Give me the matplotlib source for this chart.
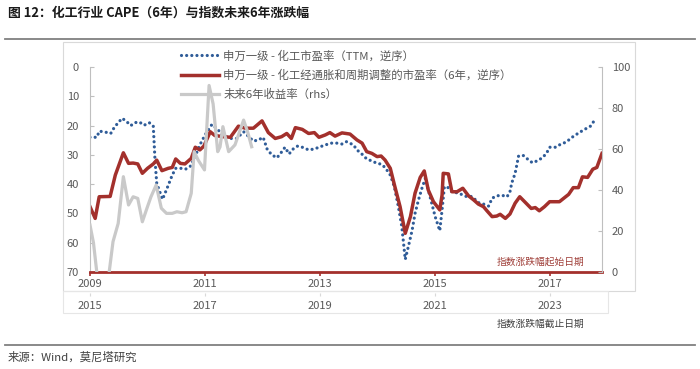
import matplotlib
matplotlib.use("Agg")
import matplotlib.pyplot as plt
from matplotlib.lines import Line2D
from matplotlib.patches import Rectangle

plt.rcParams['font.family'] = ['Noto Sans CJK SC', 'DejaVu Sans']

# 申万一级 - 化工市盈率（TTM，逆序），左轴
pe_year = [2009.00, 2009.12, 2009.16, 2009.26, 2009.36, 2009.42, 2009.49, 2009.56, 2009.64, 2009.71,
           2009.78, 2009.86, 2009.94, 2010.03, 2010.10, 2010.13, 2010.16, 2010.26, 2010.34, 2010.43,
           2010.49, 2010.58, 2010.66, 2010.75, 2010.83, 2010.91, 2011.00, 2011.12, 2011.23, 2011.29,
           2011.44, 2011.55, 2011.67, 2011.75, 2011.84, 2011.93, 2012.01, 2012.08, 2012.16, 2012.25,
           2012.32, 2012.39, 2012.46, 2012.54, 2012.61, 2012.69, 2012.80, 2012.90, 2012.98, 2013.09,
           2013.20, 2013.29, 2013.38, 2013.46, 2013.58, 2013.64, 2013.73, 2013.81, 2013.90, 2013.99,
           2014.07, 2014.14, 2014.22, 2014.29, 2014.36, 2014.42, 2014.48, 2014.54, 2014.60, 2014.65,
           2014.71, 2014.77, 2014.83, 2014.88, 2014.94, 2015.00, 2015.08, 2015.12, 2015.16, 2015.21,
           2015.29, 2015.41, 2015.55, 2015.64, 2015.75, 2015.84, 2015.93, 2015.99, 2016.07, 2016.16,
           2016.25, 2016.30, 2016.33, 2016.39, 2016.45, 2016.53, 2016.61, 2016.69, 2016.78, 2016.87,
           2016.94, 2016.99, 2017.09, 2017.17, 2017.28, 2017.38, 2017.48, 2017.58, 2017.70, 2017.78]
pe_ttm = [24.0, 24.0, 21.9, 22.2, 22.7, 20.7, 19.0, 17.5, 18.7, 20.0,
          19.0, 18.8, 19.9, 19.0, 20.2, 31.8, 39.7, 45.2, 41.4, 36.9,
          34.6, 34.6, 34.9, 33.8, 30.4, 26.6, 23.2, 19.6, 21.5, 23.2,
          24.4, 24.4, 22.1, 23.6, 25.3, 24.9, 24.0, 28.1, 30.0, 31.0,
          29.3, 27.4, 29.7, 27.8, 27.0, 27.4, 28.3, 28.0, 27.4, 26.6,
          26.0, 26.0, 26.3, 25.5, 26.6, 28.3, 29.8, 31.4, 32.1, 32.9,
          33.2, 34.6, 36.9, 40.9, 47.7, 54.5, 65.7, 60.8, 55.7, 50.0,
          45.4, 41.4, 38.0, 42.0, 46.5, 51.1, 55.9, 48.8, 40.9, 40.9,
          42.6, 43.1, 44.3, 44.2, 46.3, 46.8, 47.5, 44.8, 44.0, 43.8,
          44.3, 42.6, 39.7, 36.3, 30.4, 30.2, 31.5, 32.7, 32.0, 30.9,
          29.3, 27.4, 27.4, 26.5, 25.6, 24.0, 22.7, 21.5, 20.2, 17.9]

# 申万一级 - 化工经通胀和周期调整的市盈率（6年，逆序），左轴
cape_year = [2009.00, 2009.09, 2009.16, 2009.35, 2009.44, 2009.58, 2009.67, 2009.75, 2009.83, 2009.91,
             2010.00, 2010.10, 2010.16, 2010.25, 2010.36, 2010.43, 2010.49, 2010.57, 2010.65, 2010.76,
             2010.83, 2010.91, 2010.98, 2011.09, 2011.17, 2011.32, 2011.44, 2011.58, 2011.70, 2011.84,
             2011.99, 2012.10, 2012.22, 2012.33, 2012.42, 2012.50, 2012.57, 2012.69, 2012.80, 2012.90,
             2012.98, 2013.09, 2013.17, 2013.26, 2013.38, 2013.52, 2013.64, 2013.73, 2013.81, 2013.90,
             2013.99, 2014.06, 2014.13, 2014.22, 2014.30, 2014.39, 2014.48, 2014.57, 2014.65, 2014.74,
             2014.81, 2014.88, 2014.97, 2015.08, 2015.12, 2015.14, 2015.23, 2015.29, 2015.38, 2015.48,
             2015.58, 2015.67, 2015.75, 2015.84, 2015.90, 2015.99, 2016.07, 2016.13, 2016.22, 2016.30,
             2016.39, 2016.47, 2016.57, 2016.67, 2016.74, 2016.81, 2016.90, 2016.99, 2017.16, 2017.23,
             2017.32, 2017.40, 2017.49, 2017.56, 2017.65, 2017.74, 2017.81, 2017.90]
cape_6y = [47.7, 51.7, 44.3, 44.2, 36.9, 29.3, 32.9, 32.8, 33.1, 36.3,
           34.6, 33.1, 31.8, 35.4, 34.6, 34.3, 31.4, 32.9, 33.1, 31.2,
           27.4, 28.3, 27.0, 22.1, 23.4, 23.8, 24.0, 20.2, 20.9, 20.9,
           18.4, 22.4, 24.4, 23.8, 22.7, 24.4, 20.7, 21.3, 22.7, 22.4,
           24.0, 23.2, 22.4, 23.6, 22.5, 22.9, 24.9, 26.0, 28.9, 29.5,
           30.6, 30.4, 31.8, 34.6, 40.9, 47.7, 56.8, 51.1, 43.1, 37.7,
           35.5, 42.0, 46.0, 48.8, 43.7, 36.3, 36.5, 42.6, 42.6, 41.4,
           44.0, 45.4, 46.8, 47.7, 49.1, 51.1, 50.9, 50.3, 51.7, 50.2,
           46.5, 44.3, 46.3, 48.3, 48.0, 49.1, 47.7, 46.0, 46.0, 44.9,
           43.5, 41.2, 41.2, 37.5, 37.7, 34.9, 34.3, 29.5]

# 未来6年收益率（rhs）
ret_year = [2009.00, 2009.06, 2009.13, 2009.32, 2009.40, 2009.49, 2009.58, 2009.67, 2009.75, 2009.83,
            2009.91, 2009.99, 2010.06, 2010.15, 2010.24, 2010.33, 2010.43, 2010.51, 2010.60, 2010.67,
            2010.76, 2010.81, 2010.88, 2010.99, 2011.07, 2011.14, 2011.22, 2011.26, 2011.31, 2011.41,
            2011.52, 2011.67, 2011.74, 2011.81]
ret_6y = [22.9, 14.3, -3.0, -3.0, 14.8, 23.7, 46.5, 32.7, 36.7, 35.9,
          24.5, 31.1, 36.7, 42.4, 31.1, 28.6, 28.6, 29.4, 28.9, 29.4,
          38.4, 58.7, 54.6, 49.8, 91.0, 82.0, 58.7, 61.0, 70.9, 58.7,
          62.0, 74.1, 68.4, 61.1]

year_ticks = [2009, 2011, 2013, 2015, 2017]
left_ticks = [0, 10, 20, 30, 40, 50, 60, 70]
right_ticks = [0, 20, 40, 60, 80, 100]

blue = '#2F5C98'
red = '#A3302C'
grey = '#C9C9C9'
txt = '#595959'
W, H = 700, 369


def fx(x):
    return x / W


def fy(y):
    return 1 - y / H


fig = plt.figure(figsize=(7, 3.69), dpi=100)

ax = fig.add_axes([fx(90), fy(272), fx(602) - fx(90), fy(67) - fy(272)])
ax.plot(pe_year, pe_ttm, color=blue, lw=2.3, linestyle=(0, (0.01, 1.6)),
        dash_capstyle='round', label='申万一级 - 化工市盈率（TTM，逆序）')
ax.plot(cape_year, cape_6y, color=red, lw=2.5, solid_joinstyle='round',
        label='申万一级 - 化工经通胀和周期调整的市盈率（6年，逆序）')
ax.set_xlim(2009, 2017.9)
ax.set_ylim(70, 0)
ax.set_yticks(left_ticks)
ax.set_xticks(year_ticks)
ax.set_xticklabels([str(y) for y in year_ticks])
ax.spines['top'].set_visible(False)
ax.spines['right'].set_visible(False)
ax.spines['left'].set_color('#BFBFBF')
ax.spines['bottom'].set_color(red)
ax.spines['bottom'].set_linewidth(2)
ax.spines['bottom'].set_zorder(5)
ax.tick_params(axis='y', direction='in', length=3, color='#BFBFBF', labelcolor=txt,
               labelsize=8, pad=8)
ax.tick_params(axis='x', direction='out', length=3, width=1.2, color=red, labelcolor=txt,
               labelsize=8, pad=2)

ax2 = ax.twinx()
ax2.plot(ret_year, ret_6y, color=grey, lw=2.3, solid_joinstyle='round',
         label='未来6年收益率（rhs）')
ax2.set_ylim(0, 100)
ax2.set_yticks(right_ticks)
for s in ['top', 'left', 'bottom']:
    ax2.spines[s].set_visible(False)
ax2.spines['right'].set_color('#BFBFBF')
ax2.tick_params(axis='y', direction='in', length=3, color='#BFBFBF', labelcolor=txt,
                labelsize=8, pad=7)

sec = ax.secondary_xaxis((272 - 293) / 205, functions=(lambda x: x + 6, lambda x: x - 6))
sec.set_xticks([y + 6 for y in year_ticks])
sec.set_xticklabels([str(y + 6) for y in year_ticks])
sec.spines['bottom'].set_visible(False)
sec.tick_params(direction='out', length=2, color='#D9D9D9', labelcolor=txt,
                labelsize=8, pad=4)

h1, l1 = ax.get_legend_handles_labels()
h2, l2 = ax2.get_legend_handles_labels()
leg = ax2.legend(h1 + h2, l1 + l2, loc='upper left', bbox_to_anchor=(fx(181), fy(50)),
                 bbox_transform=fig.transFigure, frameon=False, fontsize=8.2,
                 handlelength=3.3, handletextpad=0.4, labelspacing=0.7,
                 borderpad=0, borderaxespad=0)
for t in leg.get_texts():
    t.set_color(txt)

# frames around the chart area
fig.add_artist(Rectangle((fx(63), fy(291)), fx(635) - fx(63), fy(42) - fy(291),
                         transform=fig.transFigure, fill=False, ec='#D9D9D9', lw=0.8))
fig.add_artist(Rectangle((fx(63), fy(313)), fx(608) - fx(63), fy(291) - fy(313),
                         transform=fig.transFigure, fill=False, ec='#E6E6E6', lw=0.8))

fig.text(fx(8), fy(13), '图 12：化工行业 CAPE（6年）与指数未来6年涨跌幅', fontsize=9.3,
         fontweight='bold', color='#1A1A1A', va='center', ha='left')
fig.add_artist(Line2D([fx(5), fx(695)], [fy(39), fy(39)], transform=fig.transFigure,
                      color='#808080', lw=1.3))
fig.text(fx(541), fy(262), '指数涨跌幅起始日期', fontsize=7, color='#A0403A',
         ha='center', va='center')
fig.text(fx(541), fy(324), '指数涨跌幅截止日期', fontsize=7, color='#404040',
         ha='center', va='center')
fig.add_artist(Line2D([fx(5), fx(695)], [fy(345), fy(345)], transform=fig.transFigure,
                      color='#808080', lw=1.3))
fig.text(fx(8), fy(357), '来源：Wind，莫尼塔研究', fontsize=8.2, color='#404040',
         ha='left', va='center')

fig.savefig('out.png', dpi=100)
